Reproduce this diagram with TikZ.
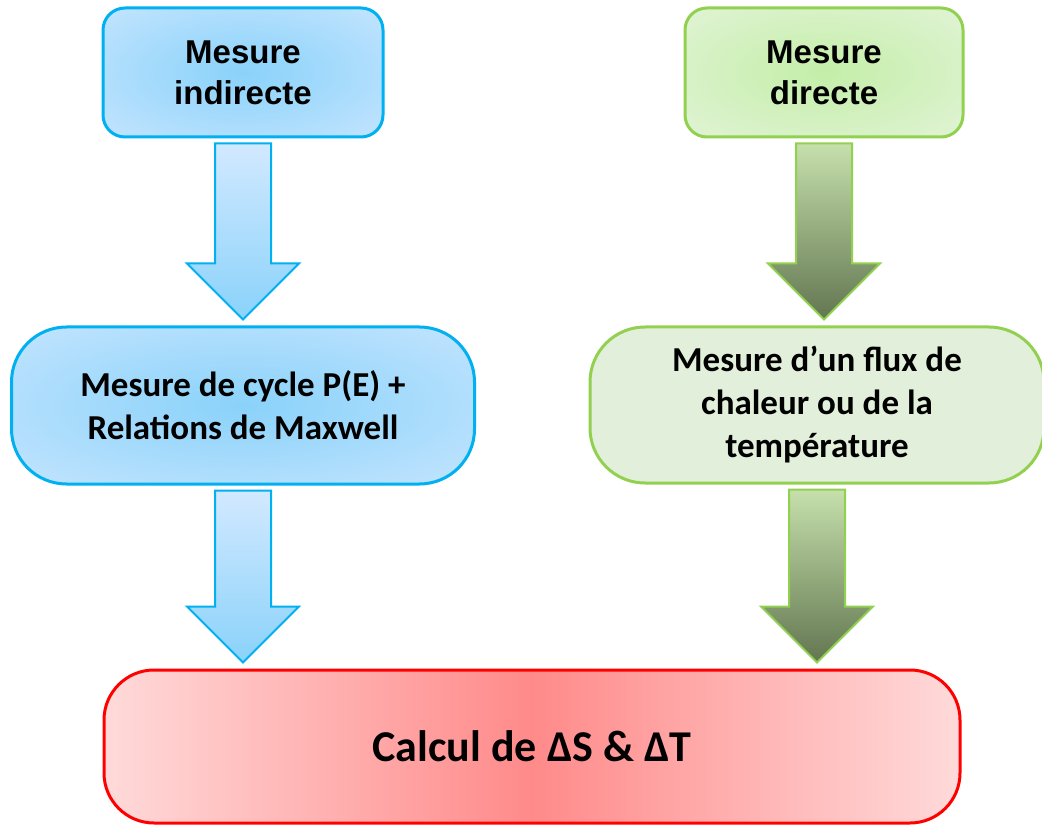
\documentclass[tikz,border=0pt]{standalone}
\usepackage{fontspec}
\setmainfont{Carlito}
\newfontfamily\arialfont{Liberation Sans}
\usepackage{tikz}
\usetikzlibrary{positioning,calc}
\definecolor{lineblue}{RGB}{0,176,240}
\definecolor{linegreen}{RGB}{146,208,80}
\definecolor{midblue}{RGB}{138,210,250}
\definecolor{paleblue}{RGB}{210,233,255}
\definecolor{midgreen}{RGB}{196,238,168}
\definecolor{palegreen}{RGB}{232,245,225}
\definecolor{flatgreen}{RGB}{226,239,218}
\definecolor{topgreen}{RGB}{198,224,172}
\definecolor{darkgreen}{RGB}{98,118,80}
\definecolor{midred}{RGB}{255,138,138}
\definecolor{palered}{RGB}{255,218,218}
\pgfdeclareradialshading{blueglow}{\pgfpoint{0bp}{0bp}}{color(0bp)=(midblue); color(45bp)=(paleblue); color(100bp)=(paleblue)}
\pgfdeclareradialshading{greenglow}{\pgfpoint{0bp}{0bp}}{color(0bp)=(midgreen); color(45bp)=(palegreen); color(100bp)=(palegreen)}
\newcommand{\fatarrow}[3]{%
  \draw [#1] let \p1=(#2.south), \p2=(#3.north) in
    (\x1-28pt,\y1-5pt) -- (\x1+28pt,\y1-5pt) -- (\x1+28pt,\y2+62pt)
    -- (\x1+56pt,\y2+62pt) -- (\x1,\y2+6pt) -- (\x1-56pt,\y2+62pt)
    -- (\x1-28pt,\y2+62pt) -- cycle;}
\tikzset{
  rectnode/.style args={#1,#2,#3}{
  draw,
  line width=3pt,
  rounded corners=#3pt,
  minimum width=#1pt,
  minimum height=#2pt,
  inner sep=0pt,
  align=center
  },
  topfont/.style={font=\arialfont\bfseries\fontsize{33}{41}\selectfont},
  midfont/.style={font=\bfseries\fontsize{35}{43}\selectfont},
  bluebox/.style={draw=lineblue,shading=blueglow},
  greenbox/.style={draw=linegreen,shading=greenglow},
  redbox/.style={draw=red,left color=palered,right color=palered,middle color=midred},
  bluearrow/.style={draw=lineblue,line width=2pt,top color=paleblue,bottom color=midblue},
  greenarrow/.style={draw=linegreen,line width=2pt,top color=topgreen,bottom color=darkgreen}
}
\begin{document}
\begin{tikzpicture}[x=1pt,y=-1pt]
  \useasboundingbox (0,0) rectangle (1042,826);

  \node [rectnode={280,129,22},bluebox,topfont] (ind) at (243,72.5) {Mesure\\indirecte};
  \node [rectnode={278,129,22},greenbox,topfont,right=299pt of ind] (dir) {Mesure\\directe};

  \node [rectnode={463,157,55},bluebox,midfont,below=187pt of ind] (cyc) {Mesure de cycle P(E) +\\Relations de Maxwell};
  \node [rectnode={454,156,55},draw=linegreen,fill=flatgreen,midfont,below=187pt of dir,xshift=-7pt] (flux) {Mesure d’un flux de\\chaleur ou de la\\température};

  \node [rectnode={856,153,50},redbox,font=\bfseries\fontsize{44}{50}\selectfont] (calc) at (532,746.5) {Calcul de ΔS \& ΔT};

  \fatarrow{bluearrow}{ind}{cyc}
  \fatarrow{greenarrow}{dir}{flux}
  \fatarrow{bluearrow}{cyc}{calc}
  \fatarrow{greenarrow}{flux}{calc}
\end{tikzpicture}
\end{document}
